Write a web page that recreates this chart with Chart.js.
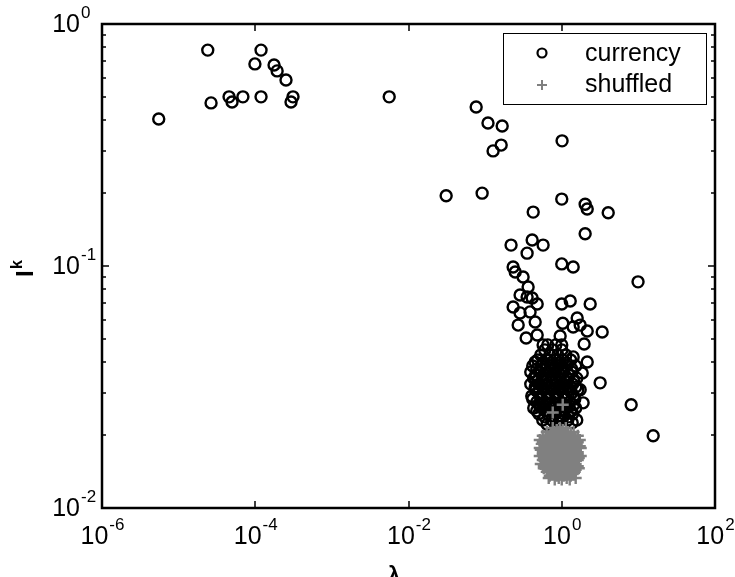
<!DOCTYPE html>
<html>
<head>
<meta charset="utf-8">
<script src="https://cdn.jsdelivr.net/npm/chart.js@4.4.0/dist/chart.umd.min.js"></script>
<style>
  html, body { margin: 0; padding: 0; background: #fff; }
</style>
</head>
<body>
<canvas id="myChart" width="735" height="577"></canvas>
<script>

// currency: scattered points (lambda_k, I^k)
const currencyLambda = [5.5e-6, 2.4e-5, 2.65e-5, 4.55e-5, 4.98e-5, 6.9e-5, 1.19e-4, 9.9e-5, 1.19e-4, 1.76e-4,
  1.93e-4, 2.52e-4, 3.11e-4, 2.93e-4, 5.6e-3, 0.0764, 0.109, 0.167, 0.162, 0.127,
  1.01, 0.031, 0.0914, 1.0, 2.02, 2.15, 4.04, 0.424, 2.02, 0.218,
  0.411, 0.571, 0.353, 1.0, 1.41, 9.9, 0.232, 0.247, 0.313, 0.364,
  0.286, 0.353, 0.411, 0.478, 0.232, 0.286, 0.386, 1.0, 1.29, 2.35,
  0.27, 0.45, 1.03, 1.59, 1.41, 1.74, 2.15, 3.37, 0.343, 0.478,
  0.953, 1.96, 0.571, 1.0, 0.45, 2.15, 1.41, 3.17, 1.85, 1.74,
  8.05, 15.6, 1.9, 1.37, 1.21, 0.644, 0.522, 0.45, 0.45]
const currencyI = [0.405, 0.78, 0.472, 0.50, 0.476, 0.50, 0.78, 0.684, 0.50, 0.677,
  0.64, 0.587, 0.50, 0.476, 0.50, 0.454, 0.39, 0.379, 0.316, 0.299,
  0.329, 0.195, 0.20, 0.189, 0.18, 0.172, 0.166, 0.167, 0.136, 0.122,
  0.128, 0.122, 0.113, 0.102, 0.099, 0.086, 0.099, 0.0945, 0.090, 0.0819,
  0.0759, 0.0745, 0.0738, 0.0697, 0.0677, 0.064, 0.0646, 0.0697, 0.0717, 0.0697,
  0.057, 0.0587, 0.058, 0.061, 0.056, 0.057, 0.0539, 0.0534, 0.0504, 0.0519,
  0.0514, 0.0476, 0.0472, 0.0472, 0.0401, 0.0401, 0.0421, 0.0329, 0.0361, 0.0308,
  0.0267, 0.0199, 0.0272, 0.0225, 0.0288, 0.0222, 0.0261, 0.0308, 0.0344]

// currency: dense column near lambda = 1, one I value per row
const clusterI = [0.0472, 0.0450, 0.0429, 0.0409, 0.0398, 0.0386, 0.0375, 0.0365, 0.0355,
  0.0344, 0.0335, 0.0325, 0.0316, 0.0308, 0.0299, 0.0290, 0.0282, 0.0274, 0.0267,
  0.0259, 0.0252, 0.0245, 0.0238, 0.0231, 0.0218]
const clusterLambda = [
  [0.656, 0.835],
  [0.600, 0.763, 1.0],
  [0.532, 0.697, 0.887, 1.13],
  [0.486, 0.637, 0.81, 1.03, 1.31],
  [0.565, 0.718, 0.914, 1.16],
  [0.418, 0.548, 0.718, 0.914, 1.16, 1.52],
  [0.472, 0.618, 0.81, 1.03, 1.35],
  [0.394, 0.516, 0.656, 0.835, 1.06, 1.35],
  [0.458, 0.582, 0.740, 0.942, 1.23],
  [0.431, 0.565, 0.740, 0.942, 1.20, 1.57],
  [0.486, 0.637, 0.835, 1.09, 1.43],
  [0.394, 0.501, 0.637, 0.835, 1.06, 1.39],
  [0.45, 0.565, 0.718, 0.942, 1.20, 1.52],
  [0.458, 0.582, 0.740, 0.942, 1.23, 1.62],
  [0.501, 0.656, 0.835, 1.06, 1.35],
  [0.406, 0.532, 0.676, 0.861, 1.09, 1.43],
  [0.418, 0.532, 0.676, 0.861, 1.13, 1.48],
  [0.472, 0.600, 0.763, 0.971, 1.27],
  [0.516, 0.676, 0.861, 1.09, 1.43],
  [0.431, 0.565, 0.718, 0.914, 1.16, 1.52],
  [0.472, 0.618, 0.81, 1.03, 1.31],
  [0.501, 0.656, 0.835, 1.06, 1.39],
  [0.600, 0.763, 0.971, 1.23],
  [0.565, 0.740, 0.942, 1.20, 1.57],
  [0.835, 1.0]
]

// shuffled: blob below the currency column, one I value per row
const shuffledI = [0.0214, 0.0210, 0.0206, 0.0202, 0.0199, 0.0195, 0.0191, 0.0187,
  0.0184, 0.0180, 0.0177, 0.0174, 0.0170, 0.0167, 0.0164, 0.0161, 0.0158, 0.0155,
  0.0152, 0.0149, 0.0146, 0.0144, 0.0141, 0.0138, 0.0136, 0.0133, 0.0131, 0.0267, 0.0248]
const shuffledLambda = [
  [0.763, 0.942, 1.13],
  [0.861, 1.03],
  [0.637, 0.786, 0.971, 1.20, 1.43],
  [0.718, 0.887, 1.09, 1.31],
  [0.565, 0.697, 0.861, 1.06, 1.31, 1.62],
  [0.618, 0.763, 0.942, 1.16, 1.48],
  [0.516, 0.618, 0.763, 0.942, 1.16, 1.43, 1.72],
  [0.565, 0.697, 0.861, 1.06, 1.31, 1.62],
  [0.548, 0.676, 0.835, 1.03, 1.27, 1.57],
  [0.600, 0.740, 0.914, 1.13, 1.39, 1.72],
  [0.516, 0.618, 0.763, 0.942, 1.16, 1.43, 1.77],
  [0.532, 0.656, 0.81, 1.0, 1.23, 1.52],
  [0.565, 0.697, 0.861, 1.06, 1.31, 1.62],
  [0.565, 0.697, 0.861, 1.06, 1.31, 1.62],
  [0.516, 0.637, 0.786, 0.971, 1.20, 1.48, 1.77],
  [0.582, 0.718, 0.887, 1.09, 1.35, 1.67],
  [0.565, 0.697, 0.861, 1.06, 1.31, 1.62],
  [0.618, 0.763, 0.942, 1.16, 1.43],
  [0.532, 0.656, 0.810, 1.0, 1.23, 1.52],
  [0.582, 0.718, 0.887, 1.09, 1.35, 1.62],
  [0.582, 0.718, 0.887, 1.09, 1.35, 1.67],
  [0.656, 0.81, 1.0, 1.23, 1.52],
  [0.637, 0.786, 0.971, 1.20, 1.48],
  [0.740, 0.914, 1.13, 1.39],
  [0.697, 0.861, 1.06, 1.31],
  [0.676, 0.914, 1.16, 1.52],
  [0.810, 1.0, 1.27],
  [1.03],
  [0.763]
]

const xTicks = [-6, -4, -2, 0, 2]
const yTicks = [-2, -1, 0]
const seriesNames = ['currency', 'shuffled']

const currencyPoints = currencyLambda.map((x, i) => ({x: x, y: currencyI[i]}))
clusterLambda.forEach((row, r) => row.forEach(x => currencyPoints.push({x: x, y: clusterI[r]})))
const shuffledPoints = []
shuffledLambda.forEach((row, r) => row.forEach(x => shuffledPoints.push({x: x, y: shuffledI[r]})))

const GRAY = 'rgb(128,128,128)'
const FONT = '"Liberation Sans", Arial, sans-serif'

const drawPow = (ctx, px, py, exp, align) => {
  ctx.font = '25px ' + FONT
  const base = '10'
  const bw = ctx.measureText(base).width
  ctx.font = '17px ' + FONT
  const ew = ctx.measureText(String(exp)).width
  let x0 = align === 'center' ? px - (bw + ew) / 2 : px - bw
  ctx.textAlign = 'left'
  ctx.textBaseline = 'middle'
  ctx.font = '25px ' + FONT
  ctx.fillText(base, x0, py)
  ctx.font = '17px ' + FONT
  ctx.fillText(String(exp), x0 + bw + 1, py - 12)
}

const axesBox = {
  id: 'axesBox',
  afterDatasetsDraw(chart) {
    const {ctx, chartArea: a, scales} = chart
    const sx = scales.x, sy = scales.y
    ctx.save()
    ctx.strokeStyle = '#000'
    ctx.fillStyle = '#000'
    // ticks (inward, both sides)
    ctx.lineWidth = 1.5
    ctx.beginPath()
    xTicks.forEach(e => {
      const px = Math.round(sx.getPixelForValue(Math.pow(10, e)))
      ctx.moveTo(px, a.bottom); ctx.lineTo(px, a.bottom - 7)
      ctx.moveTo(px, a.top); ctx.lineTo(px, a.top + 7)
    })
    yTicks.forEach(e => {
      const py = Math.round(sy.getPixelForValue(Math.pow(10, e)))
      ctx.moveTo(a.left, py); ctx.lineTo(a.left + 7, py)
      ctx.moveTo(a.right, py); ctx.lineTo(a.right - 7, py)
      if (e < 0) {
        for (let m = 2; m <= 9; m++) {
          const pm = Math.round(sy.getPixelForValue(m * Math.pow(10, e)))
          ctx.moveTo(a.left, pm); ctx.lineTo(a.left + 4, pm)
          ctx.moveTo(a.right, pm); ctx.lineTo(a.right - 4, pm)
        }
      }
    })
    ctx.stroke()
    // box
    ctx.lineWidth = 2.5
    ctx.strokeRect(a.left, a.top, a.right - a.left, a.bottom - a.top)
    // tick labels
    xTicks.forEach(e => drawPow(ctx, sx.getPixelForValue(Math.pow(10, e)), 537, e, 'center'))
    yTicks.forEach(e => drawPow(ctx, 80, sy.getPixelForValue(Math.pow(10, e)) + 1, e, 'right'))
    // axis titles
    ctx.font = 'bold 24px ' + FONT
    ctx.textBaseline = 'alphabetic'
    ctx.textAlign = 'left'
    ctx.save()
    ctx.translate(33, 277)
    ctx.rotate(-Math.PI / 2)
    ctx.fillText('I', 0, 0)
    ctx.font = 'bold 16px ' + FONT
    ctx.fillText('k', 8, -11)
    ctx.restore()
    ctx.font = 'bold 22px ' + FONT
    ctx.fillText('\u03bb', 388, 582)
    ctx.font = 'bold 14px ' + FONT
    ctx.fillText('k', 402, 588)
    // legend
    const lx = 503.5, ly = 33.5, lw = 203, lh = 71
    ctx.fillStyle = '#fff'
    ctx.fillRect(lx, ly, lw, lh)
    ctx.lineWidth = 1
    ctx.strokeRect(lx, ly, lw, lh)
    ctx.lineWidth = 2.2
    ctx.strokeStyle = '#000'
    ctx.beginPath()
    ctx.arc(542, 53, 4.5, 0, Math.PI * 2)
    ctx.stroke()
    ctx.lineWidth = 2
    ctx.strokeStyle = GRAY
    ctx.beginPath()
    ctx.moveTo(537, 85); ctx.lineTo(547, 85)
    ctx.moveTo(542, 80); ctx.lineTo(542, 90)
    ctx.stroke()
    ctx.fillStyle = '#000'
    ctx.font = '25px ' + FONT
    ctx.textBaseline = 'middle'
    ctx.fillText(seriesNames[0], 585, 54)
    ctx.fillText(seriesNames[1], 585, 85)
    ctx.restore()
  }
}

const whiteBg = {
  id: 'whiteBg',
  beforeDraw(chart) {
    const ctx = chart.ctx
    ctx.save()
    ctx.fillStyle = '#fff'
    ctx.fillRect(0, 0, chart.width, chart.height)
    ctx.restore()
  }
}

var ctx = document.getElementById('myChart').getContext('2d')
var myChart = new Chart(ctx, {
  type: 'scatter',
  data: {
    datasets: [
      {
        label: seriesNames[1],
        data: shuffledPoints,
        pointStyle: 'cross',
        pointRadius: 6,
        pointBorderWidth: 2.4,
        borderColor: GRAY,
        backgroundColor: GRAY,
        order: 0
      },
      {
        label: seriesNames[0],
        data: currencyPoints,
        pointStyle: 'circle',
        pointRadius: 5.5,
        pointBorderWidth: 2.4,
        borderColor: '#000',
        backgroundColor: 'rgba(0,0,0,0)',
        order: 1
      }
    ]
  },
  options: {
    responsive: false,
    animation: false,
    devicePixelRatio: 1,
    layout: { padding: { left: 102, top: 24, right: 20, bottom: 69 } },
    plugins: { legend: { display: false }, tooltip: { enabled: false } },
    scales: {
      x: { type: 'logarithmic', min: 1e-6, max: 1e2, display: false },
      y: { type: 'logarithmic', min: 1e-2, max: 1, display: false }
    }
  },
  plugins: [whiteBg, axesBox]
})
</script>
</body>
</html>
